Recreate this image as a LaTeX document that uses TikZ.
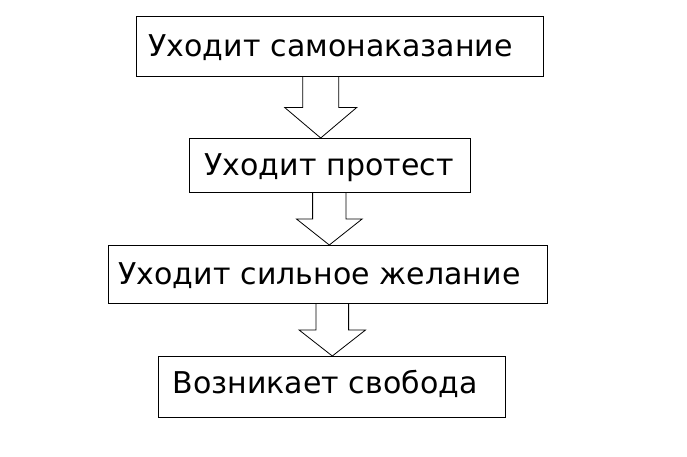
\documentclass[tikz,border=0pt]{standalone}
\usepackage{fontspec}
\setmainfont{DejaVu Sans}
\usetikzlibrary{calc}

% hollow block arrow between two stages: from, to, x centre, half shaft, half head
\newcommand{\blockarrow}[5]{%
  \draw[fat] let \p1=(#1.south), \p2=(#2.north), \p3=($(\p1)!.5!(\p2)$) in
    ({#3pt-#4pt},\y1) -- ({#3pt-#4pt},\y3) -- ({#3pt-#5pt},\y3) -- (#3pt,\y2)
    -- ({#3pt+#5pt},\y3) -- ({#3pt+#4pt},\y3) -- ({#3pt+#4pt},\y1);}

\begin{document}
\begin{tikzpicture}[x=1pt,y=-1pt,
  stage/.style={draw,line width=1pt,anchor=north west,inner ysep=0pt,align=left,
    text height=22pt,text depth=3pt,font=\fontsize{30}{36}\selectfont},
  fat/.style={line width=0.8pt,line join=miter}]
  \useasboundingbox (0,0) rectangle (687,456);
  \path
  node[stage,inner xsep=12pt,text width=383pt,minimum height=60pt] (b_1) at (136,16) {Уходит самонаказание}
  node[stage,inner xsep=15pt,text width=251pt,minimum height=54pt] (b_2) at (189,138) {Уходит протест}
  node[stage,inner xsep=10pt,text width=419pt,minimum height=58pt] (b_3) at (108,245) {Уходит сильное желание}
  node[stage,inner xsep=14pt,text width=319pt,minimum height=61pt,text depth=10pt] (b_4) at (158,356) {Возникает свобода}
  ;
  \blockarrow{b_1}{b_2}{320.7}{18}{36}
  \blockarrow{b_2}{b_3}{329.3}{16.7}{32.8}
  \blockarrow{b_3}{b_4}{332.3}{16.3}{33.2}
\end{tikzpicture}
\end{document}
